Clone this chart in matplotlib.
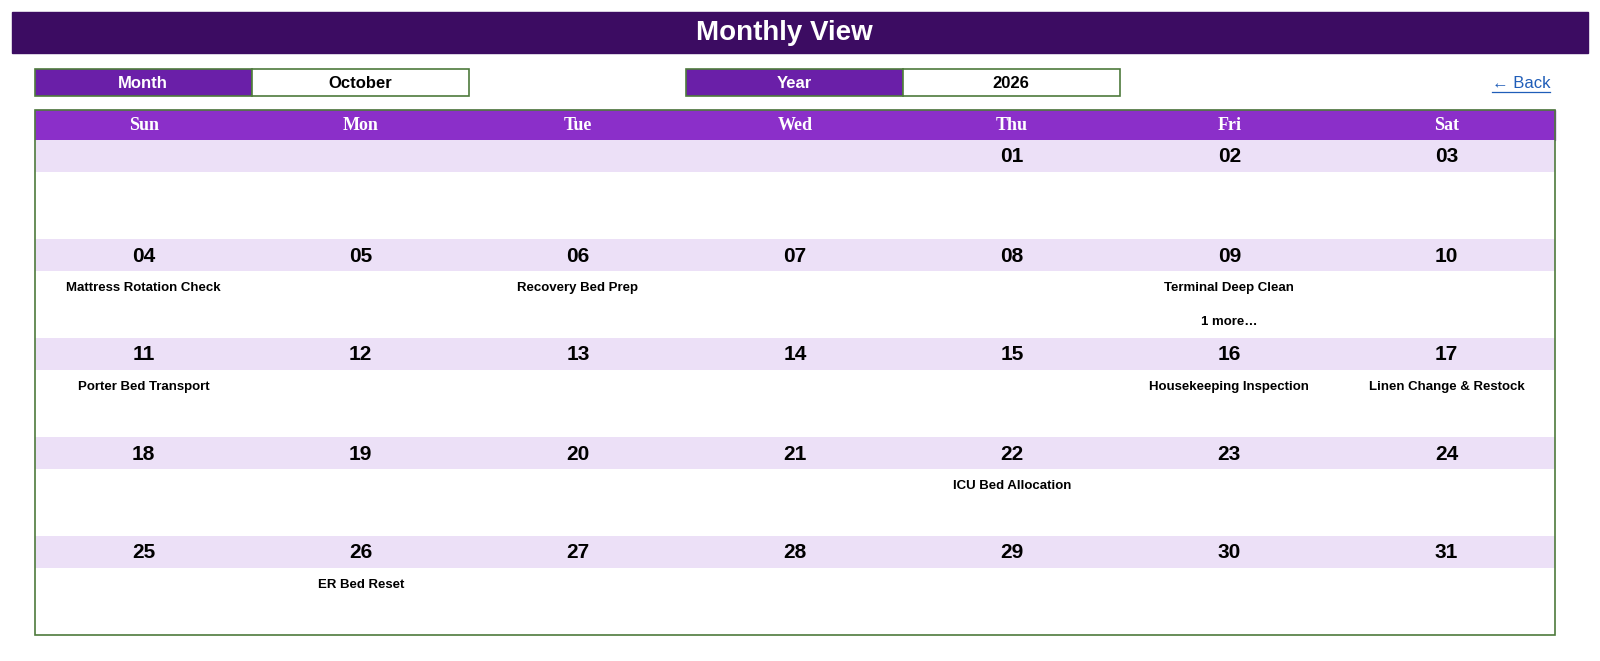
import matplotlib.pyplot as plt
from matplotlib.patches import Rectangle

month_name = "October"
year = "2026"
day_names = ["Sun", "Mon", "Tue", "Wed", "Thu", "Fri", "Sat"]
first_weekday = 4   # Thursday
days_in_month = 31
event_days = [4, 6, 9, 11, 16, 17, 22, 26]
event_titles = ["Mattress Rotation Check", "Recovery Bed Prep", "Terminal Deep Clean",
                "Porter Bed Transport", "Housekeeping Inspection", "Linen Change & Restock",
                "ICU Bed Allocation", "ER Bed Reset"]
more_days = [9]
more_counts = [1]

fig = plt.figure(figsize=(16, 6.61), dpi=100)
ax = fig.add_axes([0, 0, 1, 1])
ax.set_xlim(0, 1600)
ax.set_ylim(661, 0)
ax.axis("off")

# title bar
ax.add_patch(Rectangle((12, 12), 1576, 41, color="#3C0C62"))
ax.text(784, 33, "Monthly View", color="white", fontsize=20, fontweight="bold",
        ha="center", va="center", family="Liberation Sans")

green = "#4E7A3C"
def field(x, label, value):
    ax.add_patch(Rectangle((x, 69), 217, 27, facecolor="#6A1FA8", edgecolor=green, lw=1.2))
    ax.add_patch(Rectangle((x + 217, 69), 217, 27, facecolor="white", edgecolor=green, lw=1.2))
    ax.text(x + 108, 83, label, color="white", fontsize=12, fontweight="bold",
            ha="center", va="center", family="Liberation Sans")
    ax.text(x + 325, 83, value, color="black", fontsize=12, fontweight="bold",
            ha="center", va="center", family="Liberation Sans")

field(35, "Month", month_name)
field(686, "Year", year)
ax.text(1550, 84, "← Back", color="#1F5DB8", fontsize=12, ha="right", va="center",
        family=["Liberation Sans", "DejaVu Sans"])
ax.plot([1492, 1550], [92, 92], color="#1F5DB8", lw=0.9)

# calendar grid
left, right, top, bottom = 35, 1555, 110, 635
colw = (right - left) / 7
rowh = 99
ax.add_patch(Rectangle((left, top), right - left, 30, color="#8B2FC9"))
for i, d in enumerate(day_names):
    ax.text(left + colw * (i + 0.5), 126, d, color="white", fontsize=13,
            fontweight="bold", ha="center", va="center", family="Liberation Serif")

nweeks = (first_weekday + days_in_month + 6) // 7
for w in range(nweeks):
    y0 = 140 + w * rowh
    ax.add_patch(Rectangle((left, y0), right - left, 32, color="#ECE0F7", lw=0))

for day in range(1, days_in_month + 1):
    idx = first_weekday + day - 1
    w, c = divmod(idx, 7)
    y0 = 140 + w * rowh
    cx = left + colw * (c + 0.5)
    ax.text(cx, y0 + 17, f"{day:02d}", fontsize=15, fontweight="bold",
            ha="center", va="center", family="Liberation Sans")
    if day in event_days:
        ax.text(cx, y0 + 49, event_titles[event_days.index(day)], fontsize=9.5,
                fontweight="bold", ha="center", va="center", family="Liberation Sans")
    if day in more_days:
        ax.text(cx, y0 + 83, f"{more_counts[more_days.index(day)]} more…", fontsize=9.5,
                fontweight="bold", ha="center", va="center", family="Liberation Sans")

ax.add_patch(Rectangle((left, top), right - left, bottom - top, fill=False,
                       edgecolor=green, lw=1.2))

fig.savefig("out.png", dpi=100)
